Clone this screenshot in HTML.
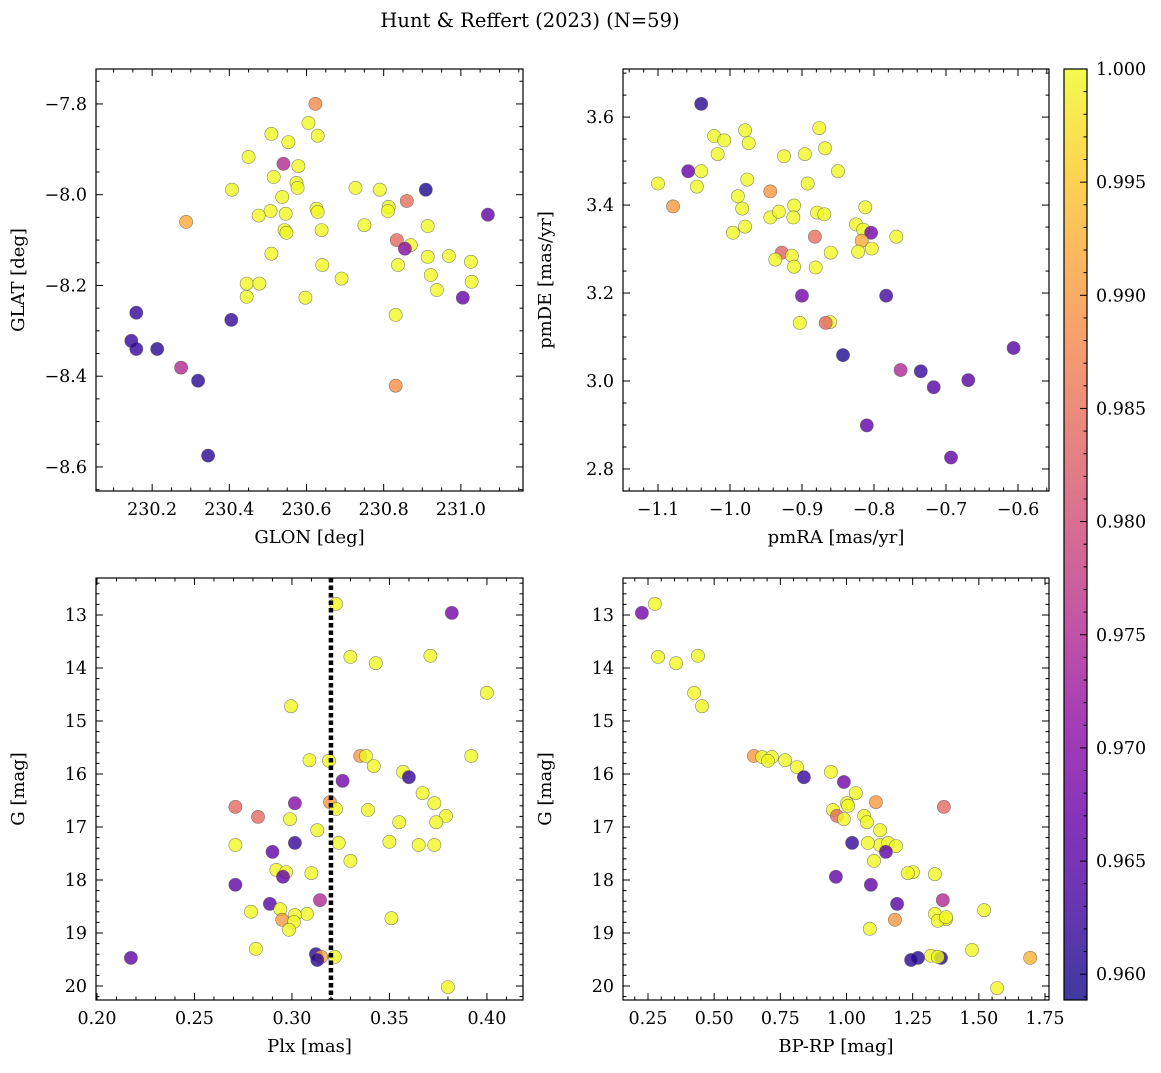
<!DOCTYPE html>
<html><head><meta charset="utf-8"><style>
body{margin:0;background:#fff;}
svg text{font-family:"DejaVu Serif","Liberation Serif",serif;fill:#000;}
</style></head><body>
<svg id="fig" width="1161" height="1068" xmlns="http://www.w3.org/2000/svg">
<text x="530" y="27" font-size="19.5" text-anchor="middle">Hunt &amp; Reffert (2023) (N=59)</text>
</svg>
<script>
// Panel 1: GLON, GLAT, prob
const glon=[230.623,230.605,230.509,230.553,230.629,230.450,230.540,230.579,230.515,230.407,230.574,230.577,230.727,230.790,230.909,230.537,230.860,230.813,230.811,230.626,230.629,230.507,230.546,230.476,231.070,230.288,230.750,230.914,230.543,230.548,230.639,230.834,230.870,230.855,230.509,230.969,230.914,231.026,230.641,230.837,230.922,230.691,230.445,230.478,231.028,230.938,230.445,230.597,231.005,230.159,230.831,230.405,230.146,230.159,230.213,230.275,230.319,230.831,230.345];
const glat=[-7.80,-7.842,-7.866,-7.884,-7.870,-7.917,-7.932,-7.937,-7.961,-7.989,-7.974,-7.985,-7.985,-7.989,-7.989,-8.005,-8.014,-8.027,-8.036,-8.031,-8.038,-8.036,-8.042,-8.046,-8.044,-8.060,-8.067,-8.069,-8.078,-8.084,-8.078,-8.100,-8.111,-8.119,-8.130,-8.135,-8.137,-8.148,-8.155,-8.155,-8.177,-8.185,-8.196,-8.196,-8.192,-8.210,-8.225,-8.227,-8.227,-8.260,-8.265,-8.276,-8.322,-8.340,-8.340,-8.381,-8.410,-8.421,-8.575];
const prob1=[0.988,1,1,1,1,1,0.975,1,1,1,1,1,1,1,0.960,1,0.985,1,1,1,1,1,1,1,0.966,0.992,1,1,1,1,1,0.984,1,0.970,1,1,1,1,1,1,1,1,1,1,1,1,1,1,0.967,0.962,1,0.962,0.962,0.962,0.961,0.975,0.961,0.989,0.961];
// Panel 2: pmRA, pmDE, prob
const pmra=[-1.040,-0.876,-0.979,-1.022,-1.008,-0.974,-0.868,-0.896,-1.017,-0.925,-1.058,-1.040,-0.850,-1.100,-0.892,-1.046,-0.976,-0.944,-0.989,-1.079,-0.812,-0.911,-0.983,-0.944,-0.912,-0.932,-0.879,-0.869,-0.996,-0.979,-0.825,-0.815,-0.804,-0.882,-0.769,-0.817,-0.803,-0.822,-0.860,-0.928,-0.914,-0.937,-0.911,-0.881,-0.900,-0.783,-0.903,-0.861,-0.867,-0.843,-0.606,-0.763,-0.735,-0.669,-0.717,-0.810,-0.693];
const pmde=[3.630,3.575,3.570,3.557,3.547,3.541,3.529,3.516,3.516,3.511,3.477,3.477,3.477,3.449,3.449,3.442,3.458,3.431,3.420,3.397,3.395,3.399,3.392,3.372,3.372,3.385,3.383,3.379,3.337,3.351,3.356,3.344,3.337,3.328,3.328,3.319,3.301,3.294,3.292,3.292,3.285,3.276,3.260,3.258,3.194,3.194,3.132,3.134,3.132,3.059,3.075,3.025,3.022,3.002,2.986,2.899,2.826];
const prob2=[0.961,1,1,1,1,1,1,1,1,1,0.967,1,1,1,1,1,1,0.990,1,0.990,1,1,1,1,1,1,1,1,1,1,1,1,0.968,0.985,1,0.992,1,1,1,0.983,1,1,1,1,0.968,0.963,1,1,0.984,0.960,0.965,0.975,0.962,0.965,0.965,0.966,0.966];
// Panel 3: Plx, G, prob
const plx=[0.3226,0.382,0.330,0.371,0.343,0.400,0.2995,0.392,0.335,0.338,0.309,0.319,0.342,0.357,0.360,0.326,0.367,0.3195,0.3015,0.271,0.373,0.3226,0.339,0.379,0.2826,0.299,0.355,0.374,0.313,0.350,0.365,0.373,0.324,0.271,0.3015,0.290,0.330,0.292,0.297,0.310,0.2954,0.271,0.3144,0.2887,0.294,0.279,0.3077,0.3015,0.351,0.295,0.301,0.2985,0.2815,0.3123,0.315,0.322,0.313,0.2174,0.380];
const gmag3=[12.79,12.96,13.79,13.77,13.91,14.47,14.72,15.66,15.66,15.66,15.74,15.75,15.85,15.96,16.06,16.13,16.36,16.53,16.55,16.62,16.55,16.66,16.68,16.79,16.81,16.85,16.91,16.91,17.06,17.28,17.34,17.34,17.30,17.34,17.30,17.47,17.64,17.81,17.85,17.87,17.94,18.09,18.38,18.45,18.55,18.60,18.64,18.66,18.72,18.75,18.79,18.94,19.30,19.40,19.45,19.45,19.51,19.47,20.02];
const prob3=[1,0.968,1,1,1,1,1,1,0.990,1,1,1,1,1,0.962,0.968,1,0.990,0.970,0.984,1,1,1,1,0.984,1,1,1,1,1,1,1,1,1,0.962,0.966,1,1,1,1,0.966,0.966,0.975,0.965,1,1,1,1,1,0.990,1,1,1,0.961,0.992,1,0.961,0.966,1];
// Panel 4: BP-RP, G, prob
const bprp=[0.276,0.227,0.288,0.439,0.356,0.424,0.454,0.650,0.681,0.718,0.703,0.768,0.813,0.941,0.839,0.990,1.035,1.111,1.002,1.368,1.006,0.949,1.067,0.964,0.990,1.077,1.127,1.127,1.157,1.187,1.081,1.021,1.149,1.104,1.251,1.232,1.334,0.960,1.092,1.364,1.191,1.520,1.334,1.376,1.183,1.345,1.376,1.088,1.474,1.319,1.270,1.357,1.345,1.244,1.694,1.569];
const gmag4=[12.79,12.96,13.79,13.77,13.91,14.47,14.72,15.66,15.68,15.68,15.75,15.74,15.87,15.96,16.06,16.15,16.36,16.53,16.55,16.62,16.60,16.68,16.79,16.79,16.85,16.91,17.06,17.34,17.30,17.36,17.30,17.30,17.47,17.64,17.85,17.87,17.89,17.94,18.09,18.38,18.45,18.57,18.64,18.74,18.75,18.77,18.70,18.92,19.32,19.43,19.47,19.47,19.45,19.51,19.47,20.04];
const prob4=[1,0.968,1,1,1,1,1,0.990,1,1,1,1,1,1,0.962,0.968,1,0.990,1,0.984,1,1,1,0.984,1,1,1,1,1,1,1,0.962,0.966,1,1,1,1,0.966,0.966,0.975,0.965,1,1,1,0.990,1,1,1,1,1,0.961,0.961,1,0.961,0.993,1];
const cbTicks=[0.960,0.965,0.970,0.975,0.980,0.985,0.990,0.995,1.000];
const VMIN=0.95886,VMAX=1.0;

const NS='http://www.w3.org/2000/svg';
const svg=document.getElementById('fig');
const stops=['#0d0887','#41049d','#6a00a8','#8f0da4','#b12a90','#cc4778','#e16462','#f2844b','#fca636','#fcce25','#f0f921'];
function hex(h){return [1,3,5].map(i=>parseInt(h.substr(i,2),16));}
function plasma(t){t=Math.max(0,Math.min(1,t));const f=t*10,i=Math.min(9,Math.floor(f)),r=f-i;const a=hex(stops[i]),b=hex(stops[i+1]);return 'rgb('+a.map((v,k)=>Math.round(v+(b[k]-v)*r)).join(',')+')';}
function mk(tag,attrs,parent){const e=document.createElementNS(NS,tag);for(const k in attrs)e.setAttribute(k,attrs[k]);(parent||svg).appendChild(e);return e;}
function fmt(v,d){let s=v.toFixed(d);if(v<0)s='\u2212'+s.slice(1);return s;}

function panel(name,box,xd,yd,xmaj,xmin,xdec,ymaj,ymin,ydec,xlab,ylab,xs,ys,cs,invY){
  const [L,T,R,B]=box;
  const sx=v=>L+(v-xd[0])/(xd[1]-xd[0])*(R-L);
  const sy=invY?(v=>T+(v-yd[0])/(yd[1]-yd[0])*(B-T)):(v=>B-(v-yd[0])/(yd[1]-yd[0])*(B-T));
  const g=mk('g',{});
  
  
  const pts=mk('g',{},g);
  
  
  for(let i=0;i<xs.length;i++){
    const c=mk('circle',{cx:sx(xs[i]).toFixed(1),cy:sy(ys[i]).toFixed(1),r:6.6,fill:plasma((cs[i]-VMIN)/(VMAX-VMIN)),'fill-opacity':0.8,stroke:'#555','stroke-width':0.6,'stroke-opacity':0.7},pts);
    
    
  }
  mk('rect',{x:L,y:T,width:R-L,height:B-T,fill:'none',stroke:'#000','stroke-width':1.2},g);
  const tk=mk('g',{stroke:'#000','stroke-width':1},g);
  const lo=Math.ceil(xd[0]/xmin-1e-9),hi=Math.floor(xd[1]/xmin+1e-9);
  for(let k=lo;k<=hi;k++){const v=k*xmin,x=sx(v);if(x<L-0.5||x>R+0.5)continue;const isMaj=Math.abs(v/xmaj-Math.round(v/xmaj))<1e-6;const len=isMaj?7:3.5;
    mk('line',{x1:x,y1:B,x2:x,y2:B-len},tk);mk('line',{x1:x,y1:T,x2:x,y2:T+len},tk);
    if(isMaj){const t=mk('text',{x:x,y:B+24,'font-size':17.5,'text-anchor':'middle'},g);t.textContent=fmt(v,xdec);}}
  const lo2=Math.ceil(yd[0]/ymin-1e-9),hi2=Math.floor(yd[1]/ymin+1e-9);
  for(let k=lo2;k<=hi2;k++){const v=k*ymin,y=sy(v);if(y<T-0.5||y>B+0.5)continue;const isMaj=Math.abs(v/ymaj-Math.round(v/ymaj))<1e-6;const len=isMaj?7:3.5;
    mk('line',{x1:L,y1:y,x2:L+len,y2:y},tk);mk('line',{x1:R,y1:y,x2:R-len,y2:y},tk);
    if(isMaj){const t=mk('text',{x:L-9,y:y+6,'font-size':17.5,'text-anchor':'end'},g);t.textContent=fmt(v,ydec);}}
  const xl=mk('text',{x:(L+R)/2,y:B+52,'font-size':18,'text-anchor':'middle'},g);xl.textContent=xlab;
  
  const yl=mk('text',{x:0,y:0,'font-size':18,'text-anchor':'middle',transform:'translate('+(L-72)+','+((T+B)/2)+') rotate(-90)'},g);yl.textContent=ylab;
  
  return sx;
}
panel('panel-glon-glat',[96,69,523,491],[230.0545,231.161],[-8.653,-7.723],0.2,0.05,1,0.2,0.05,1,'GLON [deg]','GLAT [deg]',glon,glat,prob1,false);
panel('panel-pm',[623,69,1049,491],[-1.1486,-0.5569],[2.7499,3.7094],0.1,0.02,1,0.2,0.05,1,'pmRA [mas/yr]','pmDE [mas/yr]',pmra,pmde,prob2,false);
const sx3=panel('panel-plx-g',[96,578,523,1000],[0.1995,0.4185],[12.302,20.264],0.05,0.01,2,1,0.2,0,'Plx [mas]','G [mag]',plx,gmag3,prob3,true);
panel('panel-cmd',[623,578,1049,1000],[0.1555,1.7651],[12.302,20.264],0.25,0.05,2,1,0.2,0,'BP-RP [mag]','G [mag]',bprp,gmag4,prob4,true);
const vl=mk('line',{x1:sx3(0.32),y1:578,x2:sx3(0.32),y2:1000,stroke:'#000','stroke-width':4.5,'stroke-dasharray':'4.5,3'});


// colorbar
const cb=mk('g',{});


const CL=1064,CR=1087,CT=69,CB=1000;
const defs=mk('defs',{},cb);const lg=mk('linearGradient',{id:'cbg',x1:0,y1:1,x2:0,y2:0},defs);
for(let i=0;i<=20;i++){mk('stop',{offset:i/20,'stop-color':plasma(i/20)},lg);}
mk('rect',{x:CL,y:CT,width:CR-CL,height:CB-CT,fill:'url(#cbg)','fill-opacity':0.8},cb);
mk('rect',{x:CL,y:CT,width:CR-CL,height:CB-CT,fill:'none',stroke:'#000','stroke-width':1.2},cb);
const cy=v=>CB-(v-VMIN)/(VMAX-VMIN)*(CB-CT);
for(let k=959;k<=1000;k++){const v=k/1000,y=cy(v);const isMaj=k%5===0;
  mk('line',{x1:CR,y1:y,x2:CR-(isMaj?7:3.5),y2:y,stroke:'#000','stroke-width':1},cb);}
cbTicks.forEach(v=>{const t=mk('text',{x:CR+9,y:cy(v)+6,'font-size':17.5},cb);t.textContent=v.toFixed(3);
  });
</script>
</body></html>
